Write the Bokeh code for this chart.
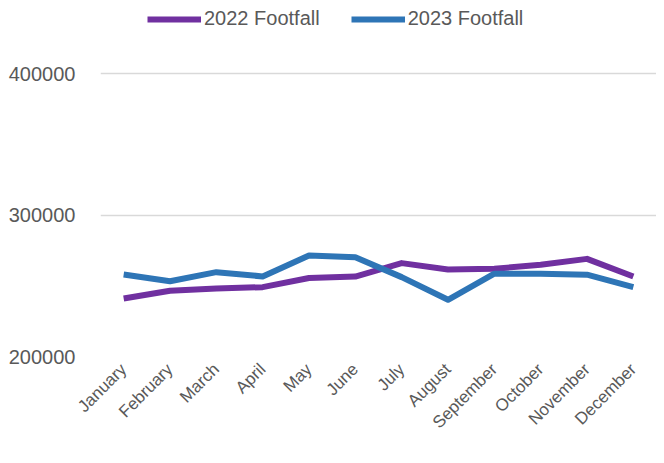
from bokeh.plotting import figure
from bokeh.models import ColumnDataSource, Legend, LegendItem, SingleIntervalTicker, BasicTickFormatter, Range1d
from bokeh.embed import file_html
from bokeh.resources import INLINE
import math

months = ["January", "February", "March", "April", "May", "June", "July",
          "August", "September", "October", "November", "December"]
footfall_2022 = [241000, 246500, 248000, 249000, 255500, 256500, 266000,
                 261500, 262000, 264800, 269000, 256500]
footfall_2023 = [258000, 253200, 259600, 256600, 271400, 270200, 256100,
                 240100, 258500, 258500, 257800, 249000]
tick_step = 100000

src = ColumnDataSource(dict(m=months, a=footfall_2022, b=footfall_2023))

p = figure(width=656, height=455, x_range=months, y_range=Range1d(200000, 451600),
           output_backend="svg", toolbar_location=None,
           min_border_left=100, min_border_right=0, min_border_top=0, min_border_bottom=99)
p.x_range.range_padding = 0
p.outline_line_color = None

FONT = "Liberation Sans"
GREY = "#595959"

r1 = p.line("m", "a", source=src, line_color="#7030A0", line_width=6, line_join="round")
r2 = p.line("m", "b", source=src, line_color="#2E75B6", line_width=6, line_join="round")

p.yaxis.ticker = SingleIntervalTicker(interval=tick_step, num_minor_ticks=0)
p.yaxis.formatter = BasicTickFormatter(use_scientific=False)
p.yaxis.axis_line_color = None
p.yaxis.major_tick_line_color = None
p.yaxis.minor_tick_line_color = None
p.yaxis.major_label_text_font = FONT
p.yaxis.major_label_text_font_size = "20px"
p.yaxis.major_label_text_color = GREY
p.yaxis.major_label_standoff = 19

p.xaxis.axis_line_color = None
p.xaxis.major_tick_line_color = None
p.xaxis.major_label_text_font = FONT
p.xaxis.major_label_text_font_size = "17px"
p.xaxis.major_label_text_color = GREY
p.xaxis.major_label_orientation = math.pi / 4
p.xaxis.major_label_standoff = 4

p.xgrid.grid_line_color = None
p.ygrid.grid_line_color = "#D9D9D9"
p.ygrid.grid_line_width = 1.5

legend = Legend(items=[LegendItem(label="2022 Footfall", renderers=[r1]),
                       LegendItem(label="2023 Footfall", renderers=[r2])],
                orientation="horizontal", location=(47, 326),
                label_text_font=FONT, label_text_font_size="20px",
                label_text_color=GREY, glyph_width=54, glyph_height=20,
                label_standoff=3, spacing=31, border_line_color=None,
                background_fill_alpha=0, padding=0, margin=0)
p.add_layout(legend, "center")

open("out.html", "w").write(file_html(p, INLINE))
